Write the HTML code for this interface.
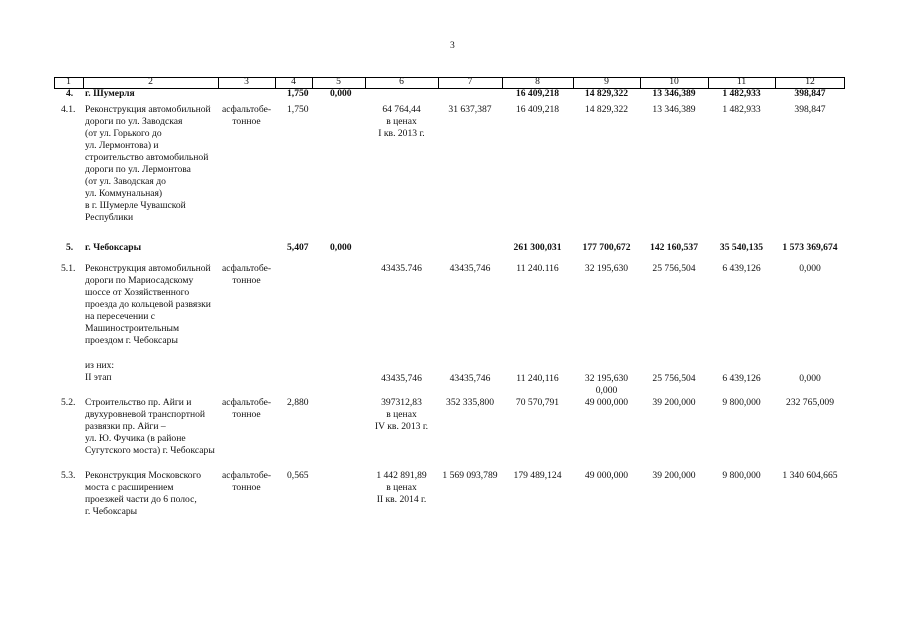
<!DOCTYPE html>
<html><head><meta charset="utf-8"><style>
body{margin:0;background:#fff;width:905px;height:640px;position:relative;overflow:hidden;font-family:"Liberation Serif",serif;font-size:9.6px;color:#111}
div{position:absolute;line-height:12px;white-space:nowrap}
.c{text-align:center}
.b{font-weight:bold}
.hl{height:1px;background:#000;left:54px;width:791px}
.vl{width:1px;background:#000;top:77px;height:11px}
</style></head><body>
<div style="left:450px;top:40px">3</div>
<div class="hl" style="top:77px"></div>
<div class="hl" style="top:88px"></div>
<div class="vl" style="left:54px"></div><div class="vl" style="left:83px"></div><div class="vl" style="left:218px"></div><div class="vl" style="left:275px"></div><div class="vl" style="left:312px"></div><div class="vl" style="left:365px"></div><div class="vl" style="left:438px"></div><div class="vl" style="left:502px"></div><div class="vl" style="left:573px"></div><div class="vl" style="left:640px"></div><div class="vl" style="left:708px"></div><div class="vl" style="left:775px"></div><div class="vl" style="left:844px"></div>
<div class="c" style="left:54px;width:29px;top:76px">1</div>
<div class="c" style="left:83px;width:135px;top:76px">2</div>
<div class="c" style="left:218px;width:57px;top:76px">3</div>
<div class="c" style="left:275px;width:37px;top:76px">4</div>
<div class="c" style="left:312px;width:53px;top:76px">5</div>
<div class="c" style="left:365px;width:73px;top:76px">6</div>
<div class="c" style="left:438px;width:64px;top:76px">7</div>
<div class="c" style="left:502px;width:71px;top:76px">8</div>
<div class="c" style="left:573px;width:67px;top:76px">9</div>
<div class="c" style="left:640px;width:68px;top:76px">10</div>
<div class="c" style="left:708px;width:67px;top:76px">11</div>
<div class="c" style="left:775px;width:70px;top:76px">12</div>

<div class="b" style="left:66px;top:88px">4.</div>
<div class="b" style="left:85px;top:88px">г. Шумерля</div>
<div class="b" style="left:287px;top:88px">1,750</div>
<div class="b" style="left:330px;top:88px">0,000</div>
<div class="b c" style="left:502px;width:71px;top:88px">16 409,218</div>
<div class="b c" style="left:573px;width:67px;top:88px">14 829,322</div>
<div class="b c" style="left:640px;width:68px;top:88px">13 346,389</div>
<div class="b c" style="left:708px;width:67px;top:88px">1 482,933</div>
<div class="b c" style="left:775px;width:70px;top:88px">398,847</div>

<div style="left:61px;top:104px">4.1.</div>
<div style="left:85px;top:104px">Реконструкция автомобильной<br>дороги по ул. Заводская<br>(от ул. Горького до<br>ул. Лермонтова) и<br>строительство автомобильной<br>дороги по ул. Лермонтова<br>(от ул. Заводская до<br>ул. Коммунальная)<br>в г. Шумерле Чувашской<br>Республики</div>
<div class="c" style="left:218px;width:57px;top:104px">асфальтобе-<br>тонное</div>
<div style="left:287px;top:104px">1,750</div>
<div class="c" style="left:365px;width:73px;top:104px">64 764,44<br>в ценах<br>I кв. 2013 г.</div>
<div class="c" style="left:438px;width:64px;top:104px">31 637,387</div>
<div class="c" style="left:502px;width:71px;top:104px">16 409,218</div>
<div class="c" style="left:573px;width:67px;top:104px">14 829,322</div>
<div class="c" style="left:640px;width:68px;top:104px">13 346,389</div>
<div class="c" style="left:708px;width:67px;top:104px">1 482,933</div>
<div class="c" style="left:775px;width:70px;top:104px">398,847</div>

<div class="b" style="left:66px;top:242px">5.</div>
<div class="b" style="left:85px;top:242px">г. Чебоксары</div>
<div class="b" style="left:287px;top:242px">5,407</div>
<div class="b" style="left:330px;top:242px">0,000</div>
<div class="b c" style="left:502px;width:71px;top:242px">261 300,031</div>
<div class="b c" style="left:573px;width:67px;top:242px">177 700,672</div>
<div class="b c" style="left:640px;width:68px;top:242px">142 160,537</div>
<div class="b c" style="left:708px;width:67px;top:242px">35 540,135</div>
<div class="b c" style="left:775px;width:70px;top:242px">1 573 369,674</div>

<div style="left:61px;top:263px">5.1.</div>
<div style="left:85px;top:263px">Реконструкция автомобильной<br>дороги по Мариосадскому<br>шоссе от Хозяйственного<br>проезда до кольцевой развязки<br>на пересечении с<br>Машиностроительным<br>проездом г. Чебоксары</div>
<div class="c" style="left:218px;width:57px;top:263px">асфальтобе-<br>тонное</div>
<div class="c" style="left:365px;width:73px;top:263px">43435.746</div>
<div class="c" style="left:438px;width:64px;top:263px">43435,746</div>
<div class="c" style="left:502px;width:71px;top:263px">11 240.116</div>
<div class="c" style="left:573px;width:67px;top:263px">32 195,630</div>
<div class="c" style="left:640px;width:68px;top:263px">25 756,504</div>
<div class="c" style="left:708px;width:67px;top:263px">6 439,126</div>
<div class="c" style="left:775px;width:70px;top:263px">0,000</div>

<div style="left:85px;top:360px">из них:<br>II этап</div>
<div class="c" style="left:365px;width:73px;top:373px">43435,746</div>
<div class="c" style="left:438px;width:64px;top:373px">43435,746</div>
<div class="c" style="left:502px;width:71px;top:373px">11 240,116</div>
<div class="c" style="left:573px;width:67px;top:373px">32 195,630<br>0,000</div>
<div class="c" style="left:640px;width:68px;top:373px">25 756,504</div>
<div class="c" style="left:708px;width:67px;top:373px">6 439,126</div>
<div class="c" style="left:775px;width:70px;top:373px">0,000</div>

<div style="left:61px;top:397px">5.2.</div>
<div style="left:85px;top:397px">Строительство пр. Айги и<br>двухуровневой транспортной<br>развязки пр. Айги –<br>ул. Ю. Фучика (в районе<br>Сугутского моста) г. Чебоксары</div>
<div class="c" style="left:218px;width:57px;top:397px">асфальтобе-<br>тонное</div>
<div style="left:287px;top:397px">2,880</div>
<div class="c" style="left:365px;width:73px;top:397px">397312,83<br>в ценах<br>IV кв. 2013 г.</div>
<div class="c" style="left:438px;width:64px;top:397px">352 335,800</div>
<div class="c" style="left:502px;width:71px;top:397px">70 570,791</div>
<div class="c" style="left:573px;width:67px;top:397px">49 000,000</div>
<div class="c" style="left:640px;width:68px;top:397px">39 200,000</div>
<div class="c" style="left:708px;width:67px;top:397px">9 800,000</div>
<div class="c" style="left:775px;width:70px;top:397px">232 765,009</div>

<div style="left:61px;top:470px">5.3.</div>
<div style="left:85px;top:470px">Реконструкция Московского<br>моста с расширением<br>проезжей части до 6 полос,<br>г. Чебоксары</div>
<div class="c" style="left:218px;width:57px;top:470px">асфальтобе-<br>тонное</div>
<div style="left:287px;top:470px">0,565</div>
<div class="c" style="left:365px;width:73px;top:470px">1 442 891,89<br>в ценах<br>II кв. 2014 г.</div>
<div class="c" style="left:438px;width:64px;top:470px">1 569 093,789</div>
<div class="c" style="left:502px;width:71px;top:470px">179 489,124</div>
<div class="c" style="left:573px;width:67px;top:470px">49 000,000</div>
<div class="c" style="left:640px;width:68px;top:470px">39 200,000</div>
<div class="c" style="left:708px;width:67px;top:470px">9 800,000</div>
<div class="c" style="left:775px;width:70px;top:470px">1 340 604,665</div>
</body></html>
